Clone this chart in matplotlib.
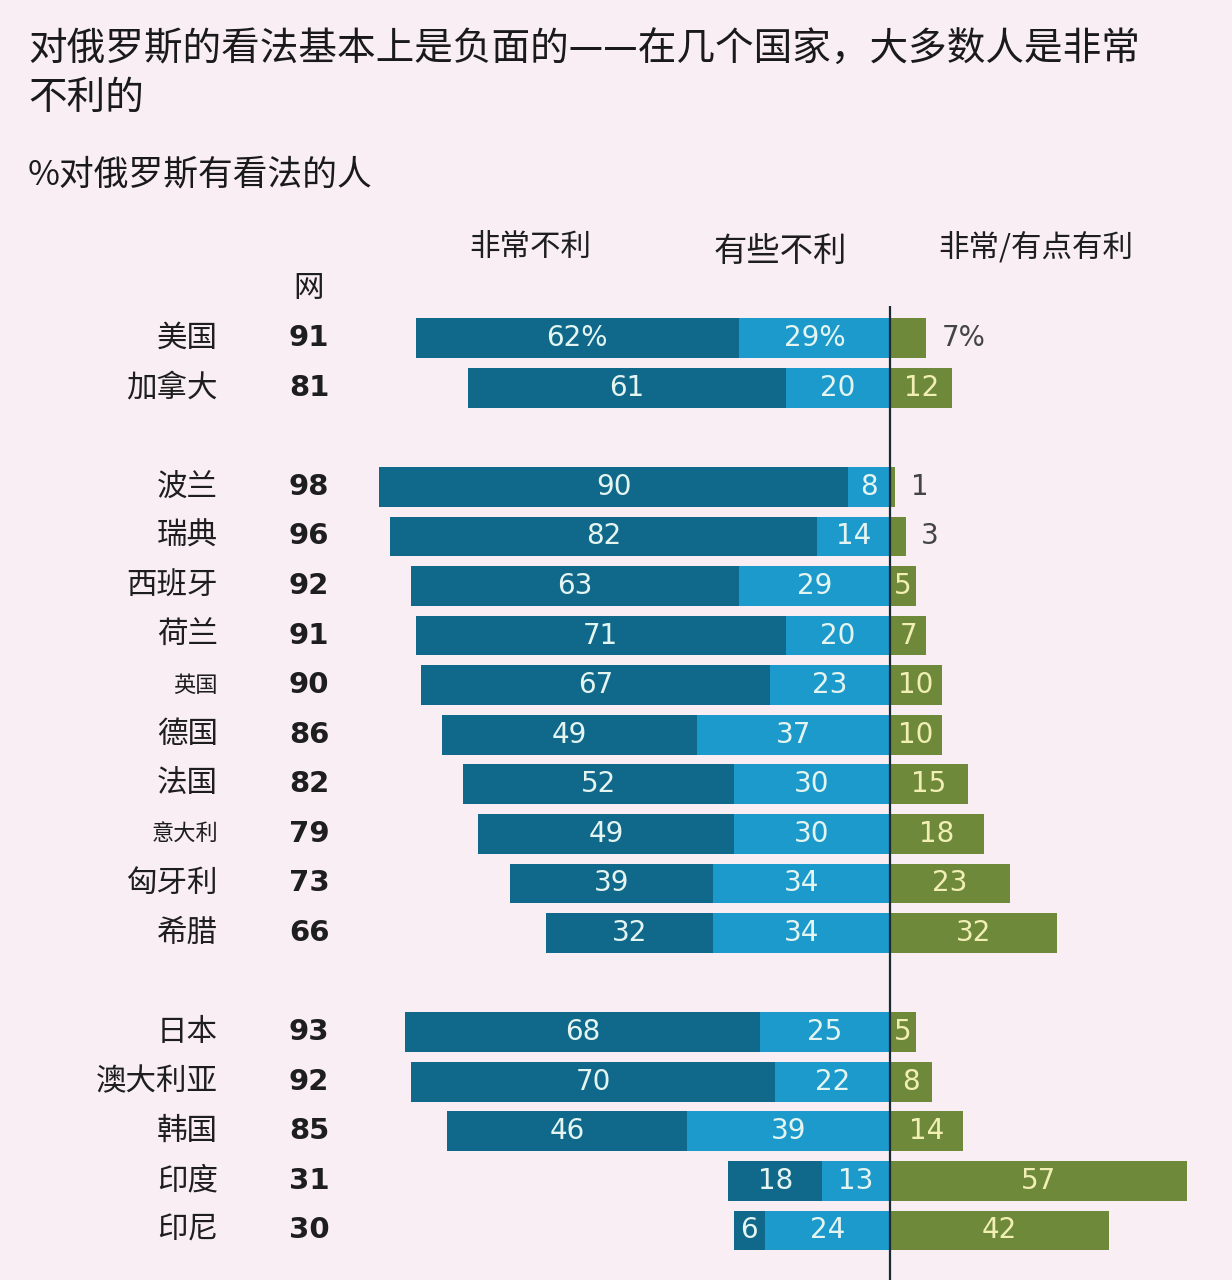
import matplotlib
matplotlib.use("Agg")
import matplotlib.pyplot as plt

plt.rcParams['font.family'] = ['Noto Sans CJK SC', 'DejaVu Sans']

# Data
countries = ["美国", "加拿大", "波兰", "瑞典", "西班牙", "荷兰", "英国", "德国", "法国",
             "意大利", "匈牙利", "希腊", "日本", "澳大利亚", "韩国", "印度", "印尼"]
net = [91, 81, 98, 96, 92, 91, 90, 86, 82, 79, 73, 66, 93, 92, 85, 31, 30]
very_unfav = [62, 61, 90, 82, 63, 71, 67, 49, 52, 49, 39, 32, 68, 70, 46, 18, 6]
some_unfav = [29, 20, 8, 14, 29, 20, 23, 37, 30, 30, 34, 34, 25, 22, 39, 13, 24]
favorable = [7, 12, 1, 3, 5, 7, 10, 10, 15, 18, 23, 32, 5, 8, 14, 57, 42]
group_sizes = [2, 10, 5]
small_names = ["英国", "意大利"]

dark = "#10688a"
light = "#1c9acb"
green = "#6e893a"
bg = "#f8eef3"

# row positions with a gap between groups
rows = []
pos = 0
for g in group_sizes:
    for k in range(g):
        rows.append(pos)
        pos += 1
    pos += 1

fig = plt.figure(figsize=(12.32, 12.8), dpi=100, facecolor=bg)
ax = fig.add_axes([0.2995, 0.0, 0.6977, 0.7610])
ax.set_facecolor(bg)
ax.set_xlim(-100, 65)
ax.set_ylim(19.0, -0.65)
ax.axis("off")

h = 0.8
ax.barh(rows, [-v for v in very_unfav], left=[-s for s in some_unfav], height=h, color=dark)
ax.barh(rows, [-s for s in some_unfav], height=h, color=light)
ax.barh(rows, favorable, height=h, color=green)
ax.axvline(0, color="#1a2a33", lw=1.6)

for i, y in enumerate(rows):
    pct = "%" if i == 0 else ""
    a, b, c = very_unfav[i], some_unfav[i], favorable[i]
    ax.text(-b - a / 2, y, f"{a}{pct}", ha="center", va="center", fontsize=20,
            color="#e4f5f1", family="DejaVu Sans")
    ax.text(-b / 2, y, f"{b}{pct}", ha="center", va="center", fontsize=20,
            color="#e4f5f1", family="DejaVu Sans")
    if c < 4 or i == 0:
        ax.text(c + 3, y, f"{c}{pct}", ha="left", va="center", fontsize=20,
                color="#444444", family="DejaVu Sans")
    else:
        ax.text(c / 2, y, f"{c}", ha="center", va="center", fontsize=20,
                color="#f2efb4", family="DejaVu Sans")
    fs = 16 if countries[i] in small_names else 22
    ax.text(-129, y, countries[i], ha="right", va="center", fontsize=fs,
            color="#1e1e1e", fontweight="medium", clip_on=False)
    ax.text(-111.5, y, str(net[i]), ha="center", va="center", fontsize=21,
            fontweight="bold", color="#1e1e1e", family="DejaVu Sans", clip_on=False)

ax.text(-111.5, -1.0, "网", ha="center", va="center", fontsize=22, color="#1e1e1e",
        fontweight="medium", clip_on=False)
ax.text(-69, -1.8, "非常不利", ha="center", va="center", fontsize=22, color="#1e1e1e",
        fontweight="medium", clip_on=False)
ax.text(-21, -1.75, "有些不利", ha="center", va="center", fontsize=24, color="#1e1e1e",
        fontweight="medium", clip_on=False)
ax.text(28, -1.8, "非常/有点有利", ha="center", va="center", fontsize=22, color="#1e1e1e",
        fontweight="medium", clip_on=False)

fig.text(28 / 1232, 1 - 50 / 1280, "对俄罗斯的看法基本上是负面的——在几个国家，大多数人是非常",
         ha="left", va="center", fontsize=27.8, color="#1a1a1a", fontweight="medium")
fig.text(28 / 1232, 1 - 98 / 1280, "不利的", ha="left", va="center", fontsize=27.8,
         color="#1a1a1a", fontweight="medium")
fig.text(28 / 1232, 1 - 175 / 1280, "%对俄罗斯有看法的人", ha="left", va="center",
         fontsize=25, color="#1a1a1a", fontweight="medium")

fig.savefig("out.png", dpi=100, facecolor=bg)
